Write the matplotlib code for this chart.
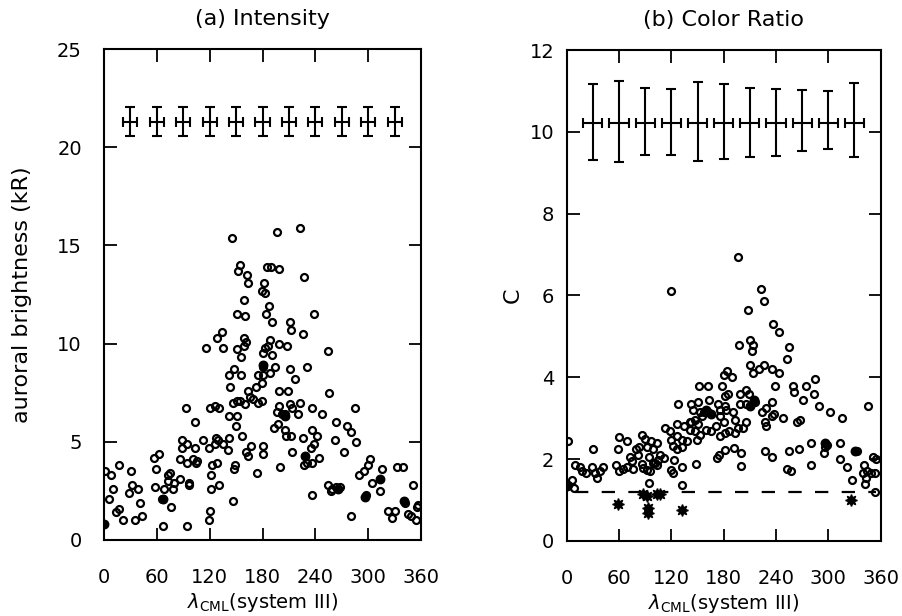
import matplotlib.pyplot as plt

# ---- panel (a): auroral brightness (kR) vs CML longitude ----
int_x = [145, 196, 223, 154, 152, 162, 164, 185, 190, 199, 227, 182, 179, 183, 159, 187,
         184, 151, 160, 238, 191, 211, 212, 226, 134, 128, 159, 161, 159, 151, 116, 135,
         188, 186, 183, 180, 191, 199, 208, 254, 156, 181, 180, 194, 189, 211, 231, 217,
         148, 142, 156, 143, 175, 180, 179, 173, 199, 209, 255, 163, 166, 169, 175, 179,
         146, 151, 155, 160, 199, 211, 223, 236, 213, 120, 126, 131, 93,
         196, 202, 206, 220, 103, 142, 151, 150, 157, 193, 198, 205, 207, 212, 88, 94,
         89, 103, 112, 119, 127, 130, 126, 135, 142, 141, 167, 180, 180, 214, 163, 161,
         57, 62, 86, 94, 101, 105, 106, 128, 123, 149, 148, 174, 200, 1, 8, 17, 31, 59,
         73, 75, 73, 79, 86, 97, 97, 122, 10, 32, 39, 28, 6, 58, 68, 78, 121, 131, 17,
         14, 22, 35, 43, 41, 66, 76, 147, 120, 119, 67, 94,
         285, 248, 264, 276, 280, 286, 272, 262, 236, 239, 235, 242, 244, 226, 231, 227,
         236, 236, 302, 300, 295, 290, 304, 316, 314, 254, 259, 264, 268, 258, 297, 281,
         333, 340, 351, 342, 323, 327, 331, 345, 349, 354, 355, 357]
int_y = [15.4, 15.7, 15.9, 14.0, 13.7, 13.5, 13.1, 13.9, 13.9, 13.8, 13.4, 13.1, 12.7, 12.6, 12.2, 11.9,
         11.5, 11.5, 11.4, 11.5, 11.1, 11.1, 10.7, 10.5, 10.6, 10.3, 10.3, 10.1, 9.9, 9.7, 9.8, 9.8,
         10.2, 9.9, 9.8, 9.5, 9.4, 10.0, 9.9, 9.6, 9.3, 8.9, 8.8, 8.8, 8.5, 8.7, 8.8, 8.2,
         8.7, 8.4, 8.4, 7.8, 8.4, 8.4, 8.0, 7.8, 7.6, 7.6, 7.5, 7.6, 7.3, 7.2, 7.0, 7.1,
         7.0, 7.1, 7.1, 6.9, 6.8, 6.9, 7.0, 6.7, 6.7, 6.7, 6.8, 6.7, 6.7,
         6.5, 6.4, 6.4, 6.4, 6.0, 6.3, 6.3, 5.8, 5.3, 5.7, 5.9, 5.6, 5.3, 5.3, 5.1, 4.9,
         4.7, 4.7, 5.1, 4.7, 5.2, 5.1, 4.9, 4.9, 5.2, 4.6, 4.8, 4.8, 4.4, 4.5, 4.3, 4.5,
         4.2, 4.4, 4.1, 3.9, 4.1, 3.9, 4.0, 3.9, 3.8, 3.8, 3.6, 3.4, 3.7, 3.5, 3.3, 3.8, 3.5, 3.6,
         3.3, 3.4, 3.0, 2.9, 3.1, 2.9, 2.8, 3.3, 2.6, 2.8, 2.6, 2.4, 2.1, 2.7, 2.6, 2.6, 2.6, 2.8, 1.6,
         1.4, 1.0, 1.0, 1.2, 1.9, 2.1, 1.7, 2.0, 1.5, 1.0, 0.7, 0.7,
         6.7, 6.4, 6.0, 5.8, 5.5, 5.0, 4.5, 5.1, 5.6, 4.9, 4.7, 5.3, 4.2, 5.2, 3.9, 3.8,
         3.9, 2.3, 4.1, 3.8, 3.5, 3.3, 2.9, 3.6, 2.5, 2.8, 2.6, 2.7, 2.7, 2.5, 2.3, 1.2,
         3.7, 3.7, 2.8, 1.9, 1.5, 1.1, 1.5, 1.3, 1.2, 1.0, 1.7, 1.8]
# blobs of overlapping points that print as solid dots
int_fill_x = [0, 205, 228, 266, 296, 341, 313, 67, 181]
int_fill_y = [0.8, 6.3, 4.3, 2.6, 2.2, 2.0, 3.1, 2.1, 8.9]

# ---- panel (b): color ratio C ----
cr_x = [196, 120, 223, 226, 208, 237, 243, 198, 210, 214, 212, 255, 253, 210, 214, 221,
        226, 235, 243, 180, 184, 190, 178, 185, 182, 152, 162, 239, 259, 274, 285, 261,
        284, 271, 289, 302, 316, 128, 143, 151, 163, 174, 181, 199, 206, 209, 216, 206,
        199, 235, 229, 224, 238, 248, 235, 145, 153, 157, 162, 155, 147, 151, 143, 176,
        180, 191, 193, 206, 183, 176, 264, 268, 113, 126, 134, 141, 197, 227, 229,
        2, 6.5, 8, 2, 9.5, 15, 17, 22, 29, 32.5, 35, 38, 42, 30.5, 56.5, 60, 65, 69,
        74.5, 76, 72.5, 60, 69, 59, 79.5, 83, 86, 90, 92.5, 99, 103, 94.5, 98.5, 103,
        107, 94.4, 86, 88, 92, 82, 97, 101, 105, 95, 111,
        120, 121.5, 132, 123, 132, 148, 172, 175, 182, 192, 199.5, 200, 118, 120, 126,
        132, 121.5, 126, 132, 137.6, 141, 147, 149, 153, 160, 166, 171, 176, 181.5,
        186.5, 193, 202.6,
        346, 313, 333, 313, 322, 327, 341, 344, 340, 349, 353.5, 343, 342, 351.6, 355,
        353.5, 299, 296, 295, 280, 266, 255, 280, 253, 257, 227, 235]
cr_y = [6.95, 6.1, 6.15, 5.86, 5.65, 5.3, 5.1, 4.8, 4.9, 4.8, 4.65, 4.75, 4.45, 4.3, 4.1, 4.2,
        4.3, 4.2, 4.1, 4.05, 4.15, 4.0, 3.8, 3.6, 3.55, 3.8, 3.8, 3.8, 3.8, 3.8, 3.95, 3.65,
        3.6, 3.45, 3.3, 3.15, 3.0, 3.35, 3.35, 3.4, 3.45, 3.35, 3.3, 3.6, 3.7, 3.6, 3.4, 3.35,
        3.35, 3.4, 3.25, 3.15, 3.1, 3.0, 3.05, 3.2, 3.15, 3.15, 3.15, 3.05, 2.95, 2.85, 2.9, 3.05,
        2.9, 3.15, 2.95, 2.9, 3.2, 3.2, 2.9, 2.95, 2.75, 2.85, 2.8, 2.9, 2.75, 2.9, 2.8,
        2.45, 1.5, 1.3, 1.37, 1.85, 1.8, 1.7, 1.65, 1.8, 1.65, 1.55, 1.7, 1.8, 2.25, 1.85, 1.7, 1.75, 1.8,
        1.95, 1.75, 2.05, 2.55, 2.45, 2.25, 2.25, 2.3, 2.6, 2.5, 2.3, 2.25, 2.4, 2.05, 1.9, 1.85,
        2.1, 1.42, 1.87, 1.78, 1.74, 2.09, 2.44, 1.91, 1.99, 1.7, 2.03,
        1.74, 1.65, 1.81, 1.99, 1.36, 1.87, 2.03, 2.11, 2.23, 2.27, 2.15, 1.84, 2.68, 2.48, 2.56,
        2.48, 2.33, 2.25, 2.3, 2.44, 2.72, 2.68, 2.48, 2.6, 2.72, 2.68, 2.81, 2.56, 2.63,
        2.68, 2.64, 2.77,
        3.3, 2.4, 2.2, 2.0, 1.8, 1.5, 1.85, 1.7, 1.65, 1.65, 1.65, 1.55, 1.4, 2.05, 2.0,
        1.2, 2.35, 2.3, 2.15, 2.4, 2.25, 2.2, 1.85, 1.75, 1.7, 2.2, 2.05]
cr_fill_x = [0, 331, 296, 160, 165, 215, 210]
cr_fill_y = [1.35, 2.2, 2.4, 3.2, 3.1, 3.45, 3.3]
# asterisks below the dashed line
star_x = [58.5, 92.5, 93, 93, 103, 88, 107, 132, 326]
star_y = [0.9, 1.1, 0.8, 0.68, 1.14, 1.14, 1.14, 0.75, 1.0]
c_level = 1.19

# ---- error crosses at the top of each panel ----
eb_x = [30, 60, 90, 120, 150, 180, 210, 240, 270, 300, 330]
int_eb_y = 21.3
int_xerr = 8
int_yerr = 0.75
cr_eb_y = 10.22
cr_xerr = 11
cr_err_lo = [0.91, 0.95, 0.78, 0.78, 0.93, 0.88, 0.83, 0.80, 0.70, 0.64, 0.84]
cr_err_hi = [0.96, 1.02, 0.86, 0.82, 1.00, 0.96, 0.86, 0.82, 0.81, 0.78, 0.98]

xlab = r'$\lambda_{\rm CML}$(system III)'

fig = plt.figure(figsize=(9.03, 6.16), dpi=100)
ax1 = fig.add_axes([0.1152, 0.1234, 0.351, 0.797])
ax2 = fig.add_axes([0.6276, 0.1218, 0.3476, 0.797])

mk = dict(ls='none', marker='o', ms=5, mfc='none', mec='black', mew=1.6)
mkf = dict(ls='none', marker='o', ms=5.5, mfc='black', mec='black', mew=1.6)

ax1.plot(int_x, int_y, **mk)
ax1.plot(int_fill_x, int_fill_y, **mkf)
ax1.errorbar(eb_x, [int_eb_y] * len(eb_x), xerr=int_xerr, yerr=int_yerr, fmt='none',
             ecolor='black', elinewidth=1.5, capsize=3.5, capthick=1.5)
ax1.set_xlim(0, 360)
ax1.set_ylim(0, 25)
ax1.set_xticks([0, 60, 120, 180, 240, 300, 360])
ax1.set_yticks([0, 5, 10, 15, 20, 25])
ax1.set_title('(a) Intensity', fontsize=16, pad=17)
ax1.set_ylabel('auroral brightness (kR)', fontsize=16, labelpad=18)
ax1.set_xlabel(xlab, fontsize=14, labelpad=3)

ax2.plot(cr_x, cr_y, **mk)
ax2.plot(cr_fill_x, cr_fill_y, **mkf)
ax2.plot(star_x, star_y, ls='none', marker=(8, 1, 0), ms=8.5, color='black')
ax2.plot([10, 355], [c_level, c_level], color='black', lw=1.6, dashes=(6, 6))
ax2.errorbar(eb_x, [cr_eb_y] * len(eb_x), xerr=cr_xerr, yerr=[cr_err_lo, cr_err_hi],
             fmt='none', ecolor='black', elinewidth=1.5, capsize=3.5, capthick=1.5)
ax2.set_xlim(0, 360)
ax2.set_ylim(0, 12)
ax2.set_xticks([0, 60, 120, 180, 240, 300, 360])
ax2.set_yticks([0, 2, 4, 6, 8, 10, 12])
ax2.set_title('(b) Color Ratio', fontsize=16, pad=17)
ax2.set_ylabel('C', fontsize=16, labelpad=5)
ax2.set_xlabel(xlab, fontsize=14, labelpad=3)

for ax in (ax1, ax2):
    ax.tick_params(direction='in', length=9, width=1.3, top=True, right=True, labelsize=14)
    ax.tick_params(axis='x', pad=20)
    for s in ax.spines.values():
        s.set_linewidth(1.5)
ax1.tick_params(axis='y', pad=16)
ax2.tick_params(axis='y', pad=9)

fig.savefig('out.png', dpi=100)
